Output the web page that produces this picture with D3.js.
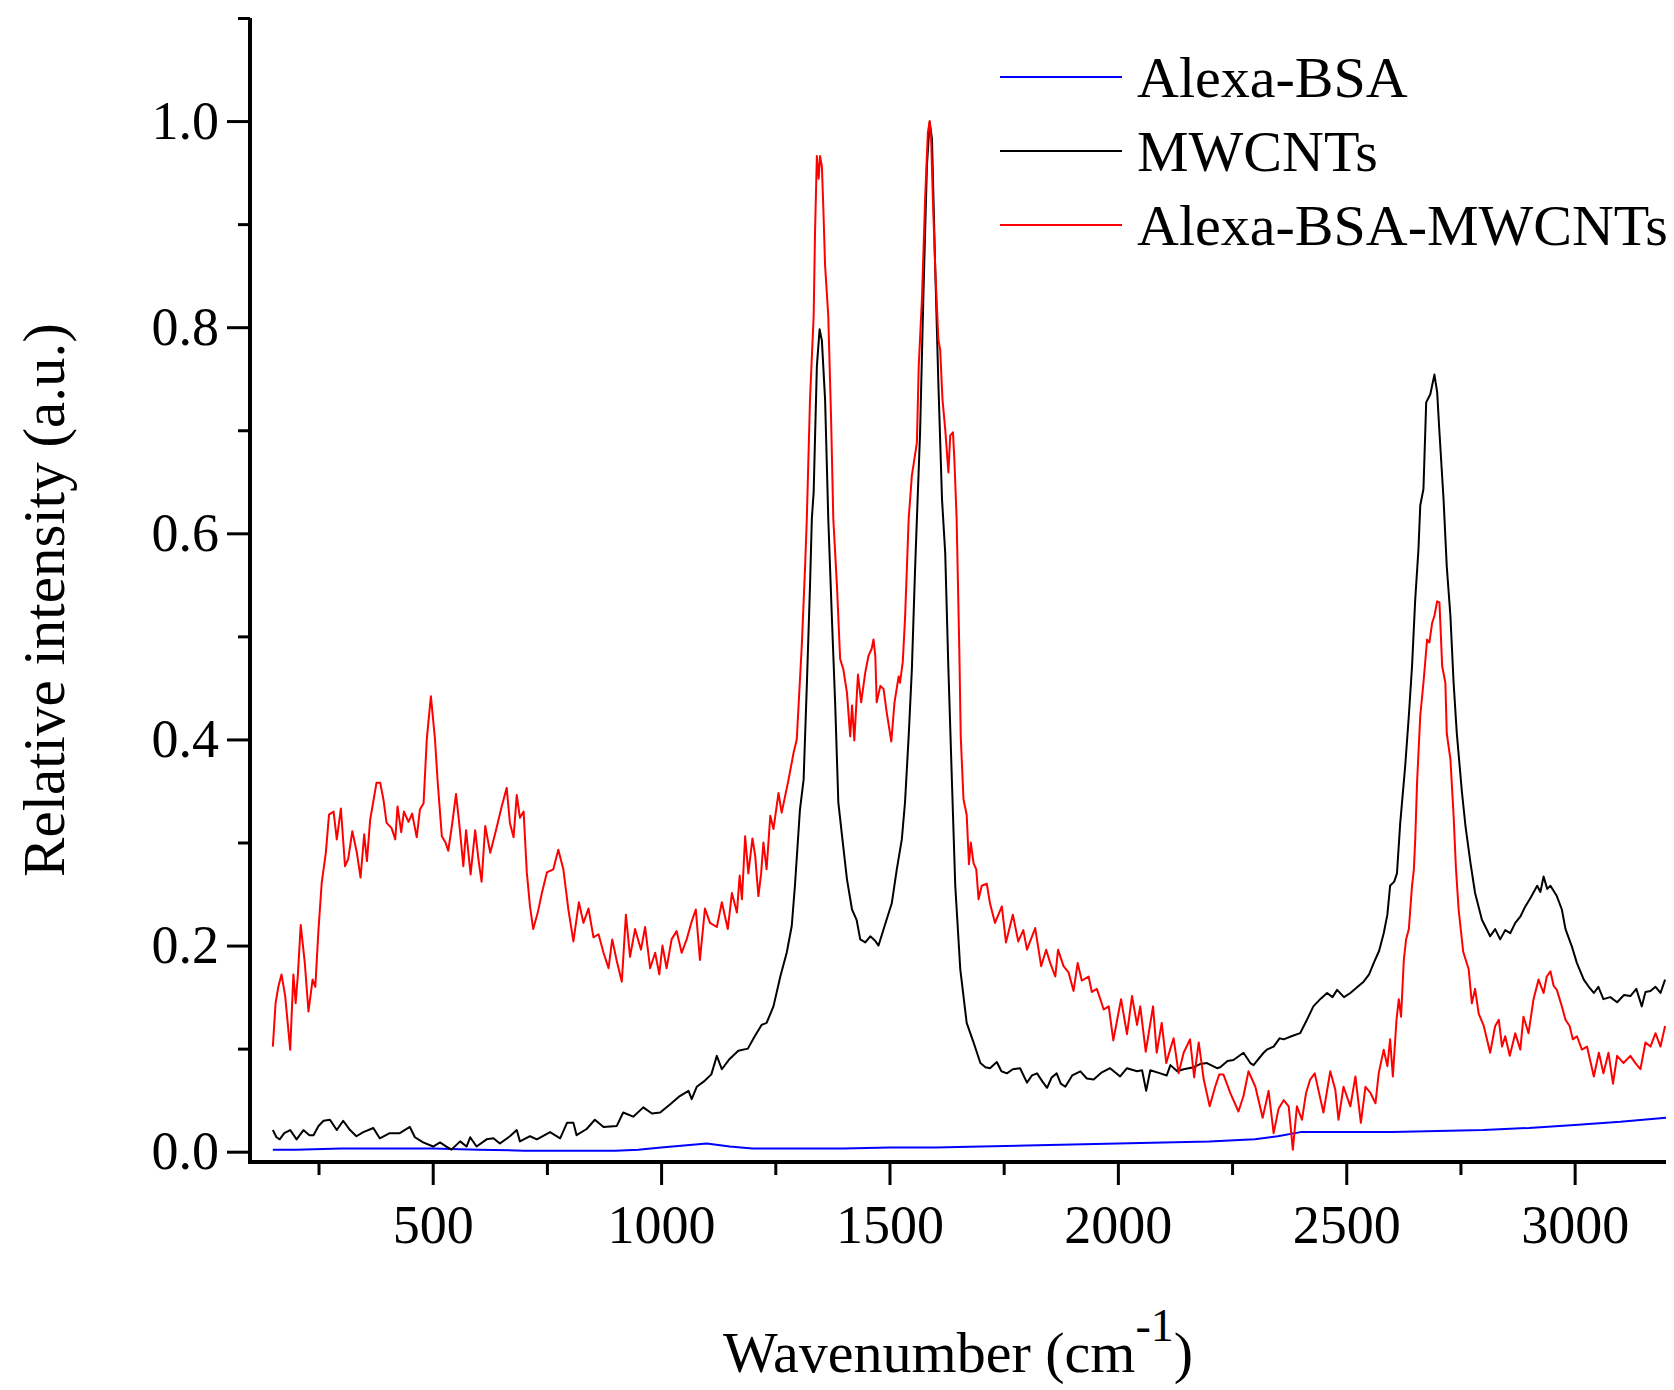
<!DOCTYPE html>
<html>
<head>
<meta charset="utf-8">
<script src="https://cdn.jsdelivr.net/npm/d3@7"></script>
<style>
  body { margin: 0; background: #fff; }
  text { font-family: "Liberation Serif", "Times New Roman", serif; fill: #000; }
</style>
</head>
<body>
<script>
margin = ({top: 18, right: 8, bottom: 228, left: 250})
width = 1674
height = 1390

// x ticks / y ticks
const xMajor = [500, 1000, 1500, 2000, 2500, 3000];
const xMinor = [250, 750, 1250, 1750, 2250, 2750];
const yMajor = [0, 0.2, 0.4, 0.6, 0.8, 1.0];
const yMinor = [0.1, 0.3, 0.5, 0.7, 0.9, 1.1];

const seriesNames = ["Alexa-BSA", "MWCNTs", "Alexa-BSA-MWCNTs"];
const seriesColors = ["#0000ff", "#000000", "#ff0000"];

// [wavenumber, relative intensity]
const alexaBsa = [[150,0.002],[200,0.002],[300,0.003],[400,0.003],[500,0.003],[600,0.002],[700,0.001],[800,0.001],[900,0.001],[950,0.002],[1000,0.004],[1050,0.006],[1100,0.008],[1150,0.005],[1200,0.003],[1300,0.003],[1400,0.003],[1500,0.004],[1600,0.004],[1700,0.005],[1800,0.006],[1900,0.007],[2000,0.008],[2100,0.009],[2200,0.010],[2300,0.012],[2350,0.015],[2400,0.019],[2500,0.019],[2600,0.019],[2700,0.020],[2800,0.021],[2900,0.023],[3000,0.026],[3100,0.029],[3200,0.033]];

const mwcnt = [[150,0.021],[158,0.014],[165,0.012],[175,0.018],[188,0.021],[202,0.012],[217,0.021],[230,0.016],[239,0.016],[250,0.025],[261,0.030],[275,0.031],[290,0.021],[304,0.030],[319,0.021],[333,0.015],[348,0.019],[370,0.023],[384,0.013],[406,0.018],[428,0.018],[450,0.024],[461,0.014],[479,0.009],[501,0.005],[516,0.009],[530,0.005],[541,0.002],[560,0.010],[574,0.005],[582,0.014],[596,0.005],[618,0.012],[633,0.013],[647,0.008],[669,0.015],[684,0.021],[691,0.010],[713,0.015],[728,0.012],[757,0.019],[779,0.013],[794,0.028],[808,0.028],[815,0.016],[837,0.022],[855,0.031],[874,0.024],[903,0.025],[917,0.038],[939,0.034],[961,0.043],[980,0.037],[998,0.038],[1020,0.046],[1041,0.054],[1060,0.059],[1067,0.051],[1078,0.063],[1096,0.069],[1110,0.075],[1122,0.093],[1133,0.080],[1150,0.090],[1169,0.098],[1190,0.100],[1205,0.112],[1220,0.123],[1231,0.125],[1246,0.141],[1261,0.170],[1275,0.193],[1286,0.219],[1293,0.258],[1304,0.332],[1312,0.361],[1319,0.452],[1326,0.549],[1330,0.614],[1334,0.640],[1341,0.762],[1347,0.798],[1352,0.787],[1359,0.730],[1366,0.614],[1374,0.517],[1381,0.436],[1388,0.339],[1396,0.307],[1407,0.264],[1418,0.235],[1428,0.225],[1436,0.206],[1447,0.203],[1458,0.209],[1468,0.205],[1476,0.200],[1490,0.220],[1505,0.241],[1516,0.274],[1527,0.303],[1534,0.339],[1542,0.403],[1549,0.468],[1556,0.565],[1560,0.614],[1567,0.698],[1574,0.827],[1582,0.957],[1588,0.999],[1593,0.983],[1600,0.859],[1607,0.746],[1615,0.633],[1622,0.581],[1629,0.468],[1637,0.355],[1644,0.258],[1655,0.177],[1669,0.125],[1684,0.106],[1699,0.086],[1710,0.082],[1720,0.081],[1735,0.087],[1745,0.078],[1757,0.076],[1770,0.080],[1786,0.081],[1801,0.067],[1812,0.074],[1823,0.076],[1835,0.068],[1845,0.062],[1855,0.072],[1866,0.076],[1875,0.066],[1885,0.063],[1900,0.074],[1918,0.078],[1932,0.071],[1947,0.070],[1965,0.077],[1983,0.081],[2005,0.073],[2020,0.081],[2042,0.078],[2053,0.079],[2062,0.059],[2071,0.079],[2093,0.076],[2107,0.074],[2115,0.084],[2130,0.078],[2144,0.080],[2166,0.082],[2180,0.085],[2195,0.086],[2217,0.081],[2224,0.082],[2240,0.088],[2253,0.089],[2275,0.096],[2290,0.086],[2297,0.084],[2319,0.096],[2326,0.099],[2341,0.102],[2354,0.110],[2363,0.109],[2380,0.112],[2399,0.115],[2414,0.128],[2428,0.141],[2443,0.148],[2458,0.154],[2470,0.150],[2480,0.157],[2495,0.150],[2509,0.154],[2525,0.160],[2538,0.165],[2550,0.172],[2560,0.183],[2572,0.195],[2582,0.212],[2590,0.230],[2596,0.258],[2605,0.262],[2611,0.270],[2618,0.318],[2629,0.374],[2637,0.423],[2644,0.471],[2651,0.536],[2658,0.584],[2662,0.627],[2669,0.643],[2675,0.727],[2684,0.735],[2693,0.754],[2699,0.737],[2704,0.698],[2713,0.633],[2720,0.568],[2728,0.520],[2735,0.455],[2742,0.406],[2753,0.350],[2761,0.316],[2772,0.280],[2782,0.251],[2797,0.225],[2815,0.209],[2826,0.216],[2837,0.206],[2848,0.215],[2859,0.212],[2870,0.222],[2881,0.228],[2892,0.238],[2903,0.246],[2918,0.258],[2925,0.252],[2932,0.267],[2940,0.255],[2947,0.258],[2961,0.248],[2972,0.235],[2980,0.216],[2994,0.199],[3005,0.183],[3020,0.167],[3031,0.160],[3042,0.154],[3052,0.160],[3063,0.148],[3078,0.150],[3093,0.145],[3108,0.152],[3122,0.151],[3135,0.158],[3147,0.141],[3155,0.155],[3166,0.156],[3177,0.160],[3188,0.154],[3198,0.167]];

const alexaBsaMwcnt = [[150,0.102],[156,0.144],[162,0.160],[169,0.172],[177,0.151],[188,0.099],[195,0.172],[200,0.144],[205,0.173],[211,0.220],[220,0.183],[228,0.136],[237,0.167],[243,0.160],[250,0.216],[257,0.261],[266,0.290],[273,0.327],[283,0.330],[290,0.303],[299,0.333],[308,0.277],[315,0.284],[324,0.311],[334,0.290],[342,0.266],[350,0.308],[356,0.282],[363,0.322],[370,0.340],[377,0.358],[385,0.358],[392,0.342],[399,0.319],[410,0.314],[418,0.303],[423,0.335],[431,0.310],[437,0.330],[447,0.320],[455,0.328],[465,0.305],[472,0.332],[480,0.338],[487,0.400],[496,0.442],[505,0.400],[511,0.358],[520,0.306],[528,0.300],[534,0.292],[542,0.316],[551,0.347],[558,0.319],[567,0.277],[573,0.312],[583,0.269],[593,0.312],[600,0.284],[607,0.262],[615,0.316],[626,0.290],[638,0.311],[651,0.335],[662,0.353],[669,0.319],[677,0.305],[684,0.346],[691,0.324],[699,0.330],[706,0.271],[713,0.238],[720,0.216],[730,0.232],[739,0.251],[750,0.271],[764,0.274],[775,0.293],[786,0.274],[797,0.235],[808,0.204],[820,0.242],[830,0.222],[841,0.236],[852,0.208],[863,0.211],[874,0.193],[885,0.178],[893,0.206],[903,0.185],[914,0.165],[923,0.230],[932,0.189],[943,0.216],[956,0.196],[965,0.218],[976,0.178],[987,0.193],[996,0.172],[1003,0.200],[1012,0.178],[1023,0.206],[1034,0.214],[1045,0.193],[1056,0.206],[1066,0.222],[1076,0.235],[1085,0.186],[1096,0.236],[1107,0.222],[1122,0.218],[1133,0.242],[1146,0.216],[1155,0.251],[1166,0.232],[1172,0.268],[1177,0.245],[1184,0.306],[1191,0.270],[1200,0.304],[1206,0.287],[1213,0.248],[1219,0.270],[1224,0.300],[1231,0.274],[1239,0.326],[1246,0.313],[1257,0.348],[1264,0.329],[1279,0.361],[1290,0.387],[1297,0.400],[1308,0.491],[1315,0.565],[1319,0.614],[1326,0.730],[1334,0.811],[1337,0.892],[1341,0.966],[1345,0.944],[1348,0.966],[1352,0.956],[1355,0.918],[1359,0.860],[1366,0.811],[1372,0.714],[1377,0.614],[1385,0.549],[1392,0.478],[1399,0.468],[1407,0.445],[1414,0.403],[1418,0.433],[1423,0.399],[1431,0.463],[1438,0.436],[1447,0.465],[1454,0.481],[1461,0.488],[1465,0.497],[1469,0.481],[1472,0.436],[1480,0.452],[1487,0.449],[1494,0.426],[1504,0.398],[1511,0.436],[1520,0.461],[1523,0.455],[1529,0.475],[1534,0.517],[1538,0.565],[1542,0.614],[1549,0.656],[1560,0.688],[1564,0.762],[1571,0.827],[1578,0.924],[1584,0.989],[1588,1.0],[1591,0.985],[1595,0.924],[1600,0.859],[1607,0.788],[1611,0.778],[1616,0.730],[1622,0.701],[1629,0.659],[1633,0.695],[1639,0.698],[1642,0.672],[1647,0.614],[1650,0.549],[1653,0.484],[1656,0.403],[1662,0.342],[1669,0.327],[1674,0.279],[1678,0.300],[1684,0.280],[1690,0.274],[1695,0.245],[1702,0.258],[1713,0.260],[1720,0.241],[1731,0.222],[1746,0.238],[1755,0.203],[1770,0.230],[1782,0.204],[1793,0.215],[1801,0.196],[1819,0.217],[1832,0.180],[1843,0.196],[1852,0.183],[1863,0.170],[1869,0.196],[1881,0.180],[1892,0.174],[1903,0.156],[1912,0.183],[1921,0.166],[1936,0.170],[1943,0.155],[1954,0.158],[1969,0.138],[1980,0.141],[1990,0.108],[2007,0.148],[2020,0.114],[2031,0.151],[2042,0.123],[2049,0.141],[2061,0.097],[2077,0.141],[2085,0.096],[2096,0.125],[2106,0.086],[2115,0.100],[2122,0.110],[2133,0.076],[2144,0.096],[2158,0.109],[2167,0.072],[2177,0.106],[2188,0.070],[2201,0.044],[2213,0.063],[2222,0.075],[2231,0.075],[2246,0.057],[2264,0.039],[2275,0.054],[2286,0.078],[2301,0.063],[2317,0.033],[2330,0.059],[2341,0.018],[2352,0.042],[2363,0.050],[2374,0.044],[2383,0.002],[2392,0.044],[2403,0.031],[2412,0.057],[2421,0.070],[2431,0.076],[2439,0.060],[2450,0.038],[2465,0.078],[2476,0.060],[2483,0.031],[2494,0.063],[2509,0.044],[2520,0.073],[2532,0.028],[2542,0.063],[2553,0.057],[2564,0.047],[2571,0.076],[2582,0.099],[2590,0.083],[2596,0.109],[2602,0.073],[2610,0.128],[2615,0.148],[2620,0.131],[2626,0.186],[2631,0.206],[2637,0.216],[2644,0.258],[2648,0.274],[2651,0.303],[2655,0.358],[2662,0.423],[2669,0.455],[2677,0.497],[2682,0.494],[2688,0.513],[2693,0.520],[2699,0.534],[2704,0.533],[2710,0.471],[2717,0.455],[2720,0.406],[2728,0.381],[2735,0.326],[2740,0.276],[2746,0.235],[2756,0.194],[2768,0.177],[2775,0.144],[2782,0.158],[2790,0.134],[2801,0.122],[2808,0.109],[2815,0.096],[2826,0.122],[2834,0.128],[2841,0.102],[2848,0.112],[2858,0.093],[2870,0.115],[2881,0.099],[2888,0.131],[2899,0.115],[2910,0.148],[2921,0.167],[2932,0.154],[2939,0.170],[2947,0.175],[2954,0.161],[2961,0.157],[2972,0.141],[2980,0.128],[2989,0.122],[2996,0.109],[3005,0.112],[3016,0.099],[3027,0.102],[3042,0.073],[3053,0.096],[3063,0.076],[3074,0.096],[3084,0.066],[3093,0.093],[3107,0.086],[3122,0.093],[3133,0.086],[3144,0.080],[3155,0.106],[3166,0.102],[3177,0.115],[3188,0.102],[3198,0.122]];

const seriesData = [alexaBsa, mwcnt, alexaBsaMwcnt];

x = d3.scaleLinear()
  .domain([100, 3200])
  .range([margin.left, width - margin.right])

y = d3.scaleLinear()
  .domain([-0.01, 1.1])
  .range([height - margin.bottom, margin.top])

const svg = d3.select("body").append("svg")
    .attr("width", width)
    .attr("height", height)
    .attr("viewBox", [0, 0, width, height]);

//spectra
const line = d3.line()
    .x(d => x(d[0]))
    .y(d => y(d[1]));

svg.append("g")
    .attr("fill", "none")
    .attr("stroke-width", 2)
    .attr("stroke-linejoin", "round")
  .selectAll("path")
  .data(seriesData).enter()
  .append("path")
    .attr("stroke", (d, i) => seriesColors[i])
    .attr("d", line);

//axes
const tickFont = 54;

const gxMinor = svg.append("g")
    .attr("transform", `translate(0,${height - margin.bottom})`)
    .call(d3.axisBottom(x).tickValues(xMinor).tickSize(13).tickFormat(""))
    .call(g => g.select(".domain").remove());

const gx = svg.append("g")
    .attr("transform", `translate(0,${height - margin.bottom})`)
    .call(d3.axisBottom(x).tickValues(xMajor).tickSize(23).tickSizeOuter(0).tickFormat(d3.format("d")));
gx.select(".domain").attr("d", `M${margin.left - 2},0H${width - margin.right}`);
gx.selectAll("text")
    .attr("y", 81).attr("dy", null)
    .style("font-size", tickFont + "px");

const gyMinor = svg.append("g")
    .attr("transform", `translate(${margin.left},0)`)
    .call(d3.axisLeft(y).tickValues(yMinor).tickSize(12).tickFormat(""))
    .call(g => g.select(".domain").remove());

const gy = svg.append("g")
    .attr("transform", `translate(${margin.left},0)`)
    .call(d3.axisLeft(y).tickValues(yMajor).tickSize(23).tickSizeOuter(0).tickPadding(8).tickFormat(d3.format(".1f")));
gy.select(".domain").attr("d", `M0,${margin.top}V${height - margin.bottom + 2}`);
gy.selectAll("text").style("font-size", tickFont + "px");

svg.selectAll(".domain").attr("stroke-width", 4).attr("stroke", "#000");
svg.selectAll(".tick line").attr("stroke-width", 3).attr("stroke", "#000");
svg.selectAll(".tick text").attr("fill", "#000").style("font-family", "'Liberation Serif', 'Times New Roman', serif");

//axis titles
const xTitle = svg.append("text")
    .attr("x", (margin.left + width - margin.right) / 2)
    .attr("y", 1372)
    .attr("text-anchor", "middle")
    .style("font-size", "58px");
xTitle.append("tspan").text("Wavenumber (cm");
xTitle.append("tspan").attr("dy", -31).style("font-size", "46px").text("-1");
xTitle.append("tspan").attr("dy", 31).text(")");

svg.append("text")
    .attr("transform", "translate(64,600) rotate(-90)")
    .attr("text-anchor", "middle")
    .style("font-size", "59px")
    .text("Relative intensity (a.u.)");

//legend
const legend = svg.append("g")
  .selectAll("g")
  .data(seriesNames).enter()
  .append("g")
    .attr("transform", (d, i) => `translate(1000,${77 + i * 74})`);

legend.append("line")
    .attr("x1", 0).attr("x2", 122)
    .attr("stroke-width", 2)
    .attr("stroke", (d, i) => seriesColors[i]);

legend.append("text")
    .attr("x", 137)
    .attr("y", 20)
    .style("font-size", "58px")
    .text(d => d);
</script>
</body>
</html>
